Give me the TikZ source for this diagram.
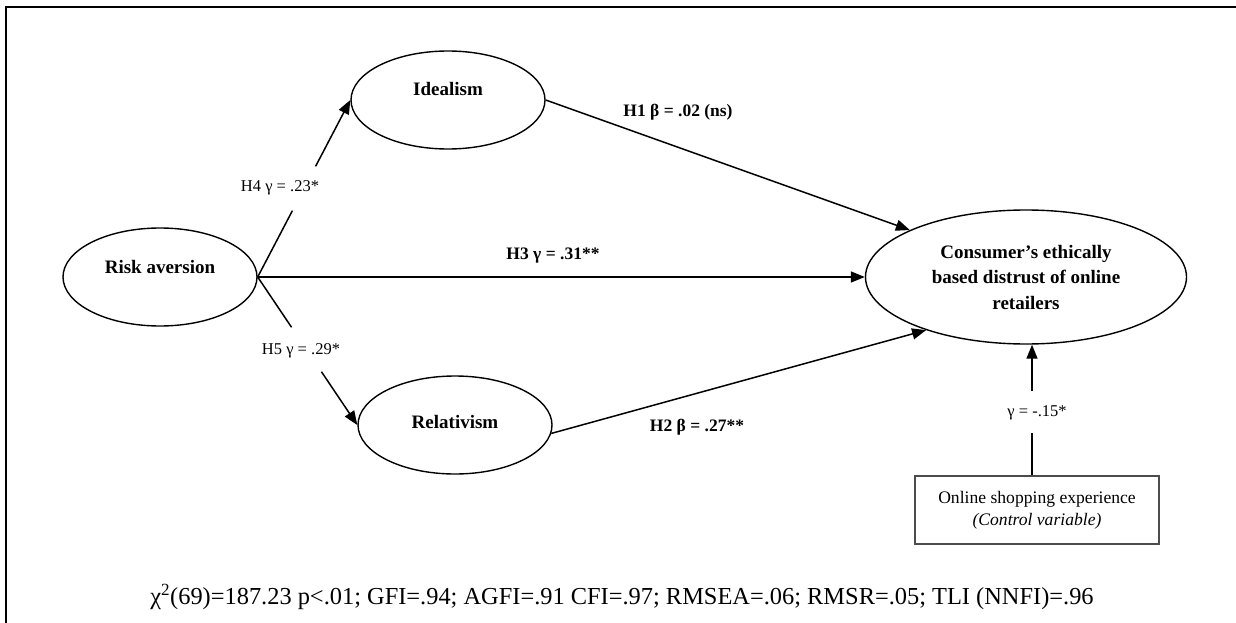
\documentclass[tikz,border=0pt]{standalone}
\usepackage{fontspec}
\setmainfont{Liberation Serif}
\usetikzlibrary{arrows.meta,calc,shapes.geometric}

\begin{document}
\begin{tikzpicture}[x=1pt,y=-1pt,
  latent/.style={ellipse,draw,line width=1.4pt,inner sep=0pt,
    minimum width=194pt,minimum height=98pt},
  nlbl/.style={font=\bfseries\fontsize{19}{25.5}\selectfont},
  edgeline/.style={line width=1.5pt},
  arr/.style={edgeline,-{Triangle[length=14pt,width=11pt]}},
  lbl/.style={font=\fontsize{16.5}{20}\selectfont,inner sep=0pt},
  blbl/.style={font=\bfseries\fontsize{17.5}{20}\selectfont,inner sep=0pt},
  ctlbox/.style={draw=black!70,line width=1.3pt,minimum width=244pt,
    minimum height=68pt,align=center,inner sep=0pt,
    font=\fontsize{17.6}{22}\selectfont}]
\useasboundingbox (0,0) rectangle (1236,623);

% frame (left and top rules)
\draw[line width=2.5pt] (6,623) -- (6,7) -- (1236,7);

% latent constructs
\node[latent,label={[nlbl,yshift=10pt]center:Risk aversion}] (risk) at (160,277) {};
\node[latent,label={[nlbl,yshift=11pt]center:Idealism}] (ide) at (448,100) {};
\node[latent,label={[nlbl,yshift=3pt]center:Relativism}] (rel) at (455,425) {};
\node[ellipse,draw,line width=1.4pt,inner sep=0pt,minimum width=321pt,
  minimum height=134pt,align=center,nlbl] (con) at (1026,277)
  {Consumer’s ethically\\based distrust of online\\retailers};

% control variable
\node[ctlbox] (ctl) at (1037,510) {Online shopping experience\\\textit{(Control variable)}};

% path labels
\node[lbl] (l4) at (280,188) {H4 γ = .23*};
\node[lbl] (l5) at (301,351) {H5 γ = .29*};
\node[blbl] (l3) at (553,256) {H3 γ = .31**};
\node[blbl] (l1) at (678,112) {H1 β = .02 (ns)};
\node[blbl] (l2) at (697,427) {H2 β = .27**};
\node[lbl] (lc) at (1037,413) {γ = -.15*};

% structural paths
\draw[edgeline] (risk.east) -- ($(risk.east)!0.375!(ide.west)$);
\draw[arr] ($(risk.east)!0.625!(ide.west)$) -- (ide.west);
\draw[edgeline] (risk.east) -- ($(risk.east)!0.34!(rel.west)$);
\draw[arr] ($(risk.east)!0.64!(rel.west)$) -- (rel.west);
\draw[arr] (risk.east) -- (con.west);
\draw[arr] (ide.east) -- (con.158);
\draw[arr] (rel.-5) -- (con.208);

% control path
\coordinate (cb) at ($(ctl.north)+(-5,0)$);
\coordinate (ct) at ($(con.south)+(6,0)$);
\draw[edgeline] (cb) -- ($(cb)!0.326!(ct)$);
\draw[arr] ($(cb)!0.644!(ct)$) -- (ct);

% fit indices
\node[font=\fontsize{24.4}{28}\selectfont,inner sep=0pt] (fit) at (622,597)
  {χ\textsuperscript{2}(69)=187.23 p<.01; GFI=.94; AGFI=.91 CFI=.97; RMSEA=.06; RMSR=.05; TLI (NNFI)=.96};
\end{tikzpicture}
\end{document}
